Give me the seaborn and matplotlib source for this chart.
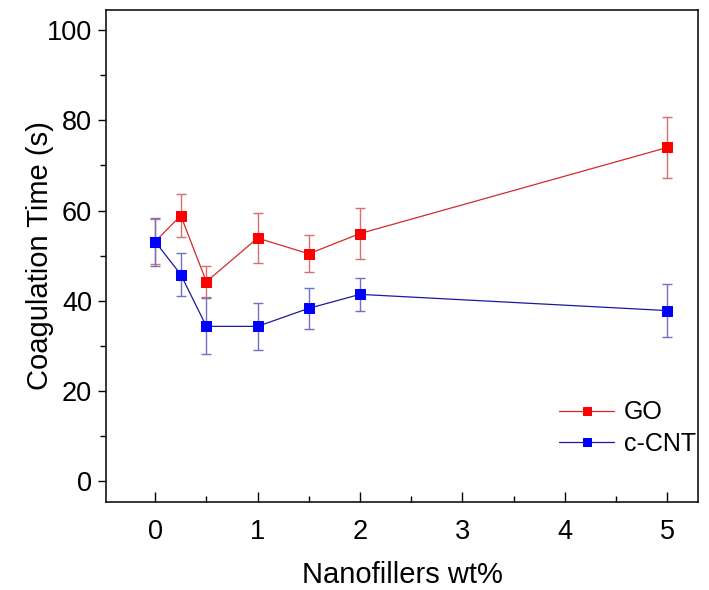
import matplotlib
matplotlib.use("Agg")
import matplotlib.pyplot as plt
from matplotlib.ticker import MultipleLocator
import seaborn as sns
import pandas as pd

# data
wt = [0, 0.25, 0.5, 1, 1.5, 2, 5]
go_time = [53.1, 58.9, 44.2, 53.9, 50.4, 54.9, 74.0]
go_err = [5.0, 4.8, 3.4, 5.6, 4.1, 5.6, 6.8]
cnt_time = [53.1, 45.8, 34.3, 34.3, 38.3, 41.4, 37.8]
cnt_err = [5.3, 4.8, 6.2, 5.2, 4.5, 3.6, 5.8]
series = ["GO", "c-CNT"]

df = pd.DataFrame({
    "wt": wt + wt,
    "time": go_time + cnt_time,
    "err": go_err + cnt_err,
    "series": [series[0]] * len(wt) + [series[1]] * len(wt),
})

sns.set_style("ticks")
plt.rcParams["font.family"] = ["Liberation Sans", "DejaVu Sans"]
plt.rcParams["text.color"] = "black"
plt.rcParams["axes.labelcolor"] = "black"
plt.rcParams["xtick.color"] = "black"
plt.rcParams["ytick.color"] = "black"

line_cols = {"GO": "#d42a2a", "c-CNT": "#1a1aa0"}
mark_cols = {"GO": "#ff0000", "c-CNT": "#0000ff"}
err_cols = {"GO": "#d97070", "c-CNT": "#7070c8"}

fig = plt.figure(figsize=(7.09, 5.90), dpi=100)
ax = fig.add_axes([0.1495, 0.149, 0.835, 0.834])

# error bars first, so markers sit on top
for name in series:
    sub = df[df["series"] == name]
    ax.errorbar(sub["wt"], sub["time"], yerr=sub["err"], fmt="none",
                ecolor=err_cols[name], elinewidth=1.0, capsize=3.3, capthick=1.0,
                zorder=2)

# blue drawn last in the reference (covers red at 0)
for i, name in enumerate(series):
    sub = df[df["series"] == name]
    sns.lineplot(data=sub, x="wt", y="time", ax=ax, color=line_cols[name],
                 linewidth=0.9, marker="s", markersize=7,
                 markerfacecolor=mark_cols[name], markeredgecolor=mark_cols[name],
                 label=name, zorder=3 + i)

ax.set_xlim(-0.48, 5.3)
ax.set_ylim(-4.7, 104.5)
ax.xaxis.set_major_locator(MultipleLocator(1))
ax.xaxis.set_minor_locator(MultipleLocator(0.5))
ax.yaxis.set_major_locator(MultipleLocator(20))
ax.yaxis.set_minor_locator(MultipleLocator(10))
ax.tick_params(axis="x", which="major", direction="in", length=7, width=1,
               labelsize=19.5, pad=12)
ax.tick_params(axis="x", which="minor", direction="in", length=4, width=1)
ax.tick_params(axis="y", which="major", direction="out", length=6, width=1,
               labelsize=19.5, pad=4)
ax.tick_params(axis="y", which="minor", direction="out", length=4, width=1)
for s in ax.spines.values():
    s.set_linewidth(1.1)
    s.set_color("black")

ax.set_xlabel("Nanofillers wt%", fontsize=21, labelpad=12)
ax.set_ylabel("Coagulation Time (s)", fontsize=21, labelpad=-5)

leg = ax.legend(loc="lower right", bbox_to_anchor=(1.035, 0.048), frameon=False,
                fontsize=18, handlelength=2.2, handletextpad=0.4,
                labelspacing=0.3, markerscale=0.85)

fig.savefig("out.png", dpi=100)
